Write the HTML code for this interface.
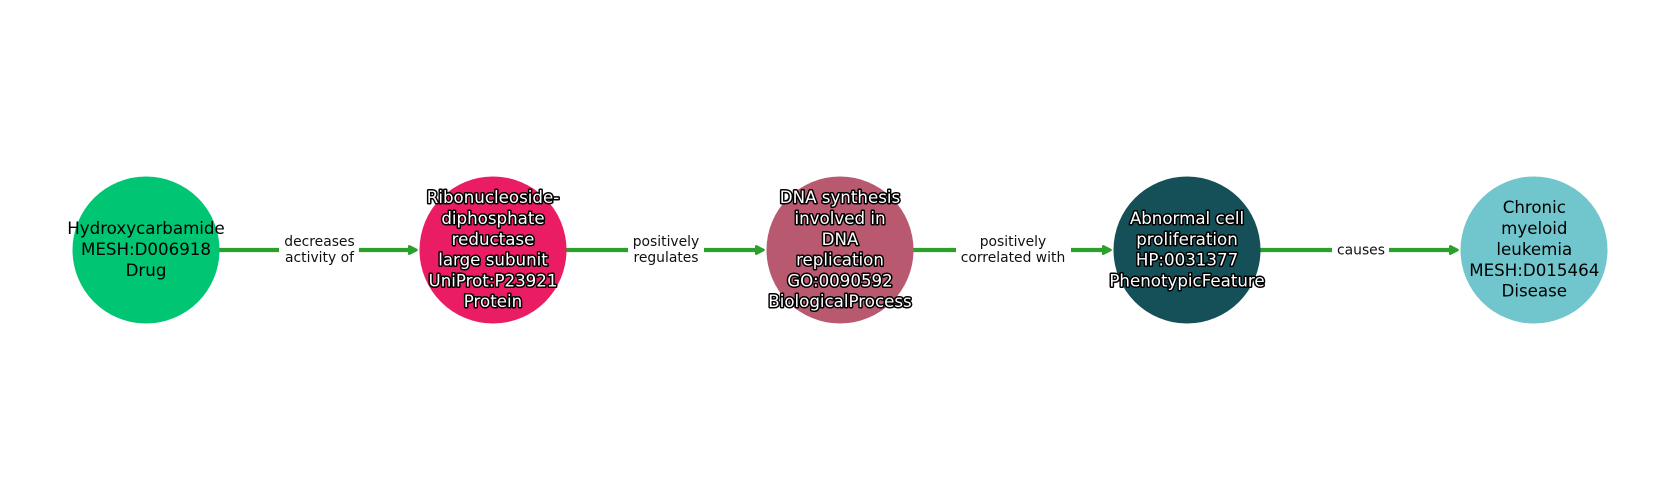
<!DOCTYPE html>
<html>
<head>
<meta charset="utf-8">
<style>
html,body{margin:0;padding:0;background:#fff;width:1680px;height:500px;overflow:hidden}
svg{display:block}
text{font-family:"DejaVu Sans",sans-serif;text-anchor:middle}
.n{font-size:16.67px;fill:#000}
.w{font-size:16.67px;fill:#fff;stroke:#000;stroke-width:3px;paint-order:stroke;stroke-linejoin:round}
.e{font-size:13.89px;fill:#111}
</style>
</head>
<body>
<svg width="1680" height="500" viewBox="0 0 1680 500" xmlns="http://www.w3.org/2000/svg">
<rect width="1680" height="500" fill="#fff"/>

<g stroke="#2ca02c" stroke-width="4.2" fill="none">
<line x1="219" y1="250" x2="279" y2="250"/>
<line x1="359" y1="250" x2="410" y2="250"/>
<line x1="566" y1="250" x2="628" y2="250"/>
<line x1="704" y1="250" x2="757" y2="250"/>
<line x1="913" y1="250" x2="956" y2="250"/>
<line x1="1071" y1="250" x2="1104" y2="250"/>
<line x1="1260" y1="250" x2="1332" y2="250"/>
<line x1="1389" y1="250" x2="1451" y2="250"/>
</g>
<g fill="#2ca02c" stroke="#2ca02c" stroke-width="2.4" stroke-linejoin="round">
<path d="M409.2 246.2 L416.6 250 L409.2 253.8 Z"/>
<path d="M756.2 246.2 L763.6 250 L756.2 253.8 Z"/>
<path d="M1103.2 246.2 L1110.6 250 L1103.2 253.8 Z"/>
<path d="M1450.2 246.2 L1457.6 250 L1450.2 253.8 Z"/>
</g>

<circle cx="146" cy="250" r="73.5" fill="#00c572"/>
<circle cx="493" cy="250" r="73.5" fill="#e91c64"/>
<circle cx="840" cy="250" r="73.5" fill="#b85970"/>
<circle cx="1187" cy="250" r="73.5" fill="#154f57"/>
<circle cx="1534" cy="250" r="73.5" fill="#70c6cc"/>

<text class="n" x="146" y="234">Hydroxycarbamide</text>
<text class="n" x="146" y="255">MESH:D006918</text>
<text class="n" x="146" y="276">Drug</text>

<text class="w" x="493" y="203">Ribonucleoside-</text>
<text class="w" x="493" y="224">diphosphate</text>
<text class="w" x="493" y="245">reductase</text>
<text class="w" x="493" y="265.5">large subunit</text>
<text class="w" x="493" y="286.5">UniProt:P23921</text>
<text class="w" x="493" y="307">Protein</text>

<text class="w" x="840" y="203">DNA synthesis</text>
<text class="w" x="840" y="224">involved in</text>
<text class="w" x="840" y="245">DNA</text>
<text class="w" x="840" y="265.5">replication</text>
<text class="w" x="840" y="286.5">GO:0090592</text>
<text class="w" x="840" y="307">BiologicalProcess</text>

<text class="w" x="1187" y="224">Abnormal cell</text>
<text class="w" x="1187" y="245">proliferation</text>
<text class="w" x="1187" y="265.5">HP:0031377</text>
<text class="w" x="1187" y="286.5">PhenotypicFeature</text>

<text class="n" x="1534.3" y="213">Chronic</text>
<text class="n" x="1534.3" y="234">myeloid</text>
<text class="n" x="1534.3" y="255">leukemia</text>
<text class="n" x="1534.3" y="276">MESH:D015464</text>
<text class="n" x="1534.3" y="296.5">Disease</text>

<text class="e" x="319.5" y="246">decreases</text>
<text class="e" x="319.5" y="262">activity of</text>
<text class="e" x="666" y="246">positively</text>
<text class="e" x="666" y="262">regulates</text>
<text class="e" x="1013" y="246">positively</text>
<text class="e" x="1013" y="262">correlated with</text>
<text class="e" x="1361" y="254.5">causes</text>
</svg>
</body>
</html>
